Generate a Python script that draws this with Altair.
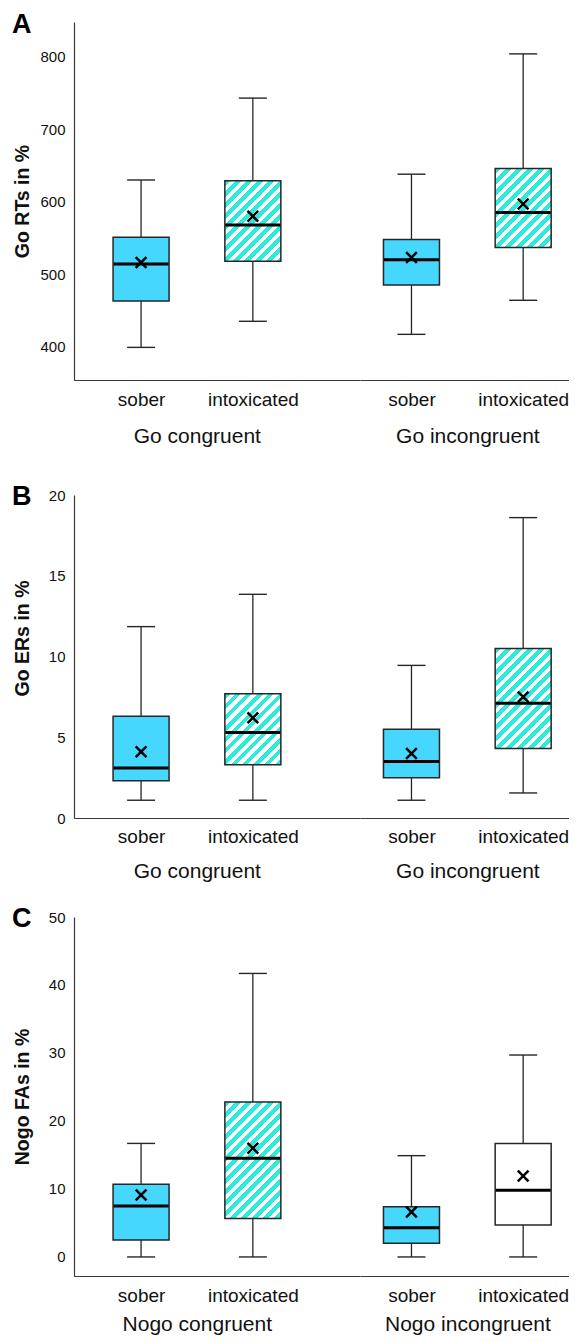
import altair as alt

# ---------------- data ----------------
CONDITIONS = ["sober", "intoxicated"]
GROUPS_GO = ["Go congruent", "Go incongruent"]
GROUPS_NOGO = ["Nogo congruent", "Nogo incongruent"]

# order of boxes: congruent-sober, congruent-intoxicated, incongruent-sober, incongruent-intoxicated
A_LOW = [399, 435, 417, 464]
A_Q1 = [463, 518, 485, 537]
A_MED = [514, 568, 520, 585]
A_Q3 = [551, 629, 548, 646]
A_HIGH = [630, 743, 638, 804]
A_MEAN = [516, 580, 523, 597]
A_TICKS = [400, 500, 600, 700, 800]

B_LOW = [1.1, 1.1, 1.1, 1.55]
B_Q1 = [2.3, 3.3, 2.5, 4.3]
B_MED = [3.1, 5.3, 3.5, 7.1]
B_Q3 = [6.3, 7.7, 5.5, 10.5]
B_HIGH = [11.85, 13.85, 9.45, 18.6]
B_MEAN = [4.1, 6.2, 4.0, 7.5]
B_TICKS = [0, 5, 10, 15, 20]

C_LOW = [0, 0, 0, 0]
C_Q1 = [2.5, 5.65, 2.0, 4.7]
C_MED = [7.5, 14.5, 4.3, 9.8]
C_Q3 = [10.7, 22.8, 7.4, 16.7]
C_HIGH = [16.7, 41.7, 14.9, 29.7]
C_MEAN = [9.1, 16.0, 6.6, 11.9]
C_TICKS = [0, 10, 20, 30, 40, 50]

# ---------------- styling ----------------
SOBER_BLUE = "#45D7FE"
HATCH_TEAL = "#2BEBDB"
LINE = "#262626"
AXIS_COL = "#3a3a3a"
TEXT_COL = "#111111"
STYLE_AB = ["solid", "hatch", "solid", "hatch"]
STYLE_C = ["solid", "hatch", "solid", "white"]
BOX_W = 56
CAP_W = 28
W_LEFT = 286
W_RIGHT = 209
XSHAPE = "M-1,-1L1,1M-1,1L1,-1"


def hatch(h_px, w_px=BOX_W, period=11.0):
    """45-degree stripes as a hard-stop linear gradient (bbox units)."""
    L = w_px + h_px
    s = L / (w_px ** 2 + h_px ** 2)
    dt = period / L
    stops = []
    k = 0
    while k * dt < 1:
        a = k * dt
        b = min((k + 0.5) * dt, 1.0)
        c = min((k + 1) * dt, 1.0)
        stops += [
            {"offset": round(a, 5), "color": HATCH_TEAL},
            {"offset": round(b, 5), "color": HATCH_TEAL},
            {"offset": round(b, 5), "color": "#ffffff"},
            {"offset": round(c, 5), "color": "#ffffff"},
        ]
        k += 1
    return {"gradient": "linear", "x1": 0, "y1": 0,
            "x2": w_px * s, "y2": h_px * s, "stops": stops}


def make_panel(letter, letter_size, letter_y, ytitle, groups, low, q1, med, q3, high, mean,
               ticks, domain, height, styles, xtitle_y, label_pad,
               ytitle_y=None, spacer=None):
    span = domain[1] - domain[0]
    recs = []
    for i in range(4):
        st = styles[i]
        if st == "solid":
            fill = SOBER_BLUE
        elif st == "white":
            fill = "#ffffff"
        else:
            fill = hatch((q3[i] - q1[i]) / span * height)
        recs.append({"group": groups[i // 2], "cond": CONDITIONS[i % 2],
                     "low": low[i], "q1": q1[i], "med": med[i], "q3": q3[i],
                     "high": high[i], "mean": mean[i], "fill": fill})

    ysc = alt.Scale(domain=domain, nice=False, zero=False)

    def sub(gi, left):
        data = alt.Data(values=[r for r in recs if r["group"] == groups[gi]])
        if left:
            xsc = alt.Scale(type="point", domain=CONDITIONS, padding=0.7793, align=0.385)
            title_x = 122.8
            width = W_LEFT
        else:
            xsc = alt.Scale(type="point", domain=CONDITIONS, padding=0.4355, align=0.529)
            title_x = 107.4
            width = W_RIGHT
        xaxis = alt.Axis(title=groups[gi], labelAngle=0, ticks=False, tickSize=0,
                         labelFontSize=19, labelColor=TEXT_COL, labelPadding=label_pad,
                         labelBaseline="alphabetic",
                         titleFontSize=21, titleFontWeight="normal", titleColor=TEXT_COL,
                         titleX=title_x, titleY=xtitle_y, titleBaseline="alphabetic",
                         domainColor=AXIS_COL, domainWidth=1.2, grid=False)
        if left:
            ykw = {}
            if ytitle_y is not None:
                ykw["titleY"] = ytitle_y
            yaxis = alt.Axis(title=ytitle, values=ticks, ticks=False, tickSize=0, grid=False,
                             labelFontSize=15, labelColor=TEXT_COL, labelPadding=9,
                             titleFontSize=19.5, titleFontWeight="bold", titleColor=TEXT_COL,
                             titleX=-52, titleBaseline="middle",
                             domainColor=AXIS_COL, domainWidth=1.2, **ykw)
        else:
            yaxis = None

        def Y(f):
            return alt.Y(f"{f}:Q", scale=ysc, axis=yaxis)

        x = alt.X("cond:N", scale=xsc, axis=xaxis, sort=CONDITIONS)
        base = alt.Chart(data).encode(x=x)
        layers = [
            base.mark_rule(color=LINE, strokeWidth=1.3).encode(y=Y("low"), y2="high:Q"),
            base.mark_tick(size=CAP_W, thickness=1.4, color=LINE, opacity=1).encode(y=Y("low")),
            base.mark_tick(size=CAP_W, thickness=1.4, color=LINE, opacity=1).encode(y=Y("high")),
            base.mark_bar(size=BOX_W, stroke=LINE, strokeWidth=1.5).encode(
                y=Y("q1"), y2="q3:Q", fill=alt.Fill("fill:N", scale=None)),
            base.mark_tick(size=BOX_W - 1, thickness=3, color="#000000", opacity=1).encode(y=Y("med")),
            base.mark_point(shape=XSHAPE, size=115, filled=False, strokeWidth=2.5,
                            color="#000000", opacity=1).encode(y=Y("mean")),
        ]
        if left:
            layers.append(
                alt.Chart(alt.Data(values=[{"t": letter}])).mark_text(
                    align="left", baseline="alphabetic", fontSize=letter_size,
                    fontWeight="bold", color="#000000").encode(
                    x=alt.value(-62), y=alt.value(letter_y), text="t:N"))
            if spacer is not None:
                layers.append(
                    alt.Chart(alt.Data(values=[{"t": 1}])).mark_rule(opacity=0, color="#ffffff").encode(
                        x=alt.value(0), y=alt.value(-spacer), y2=alt.value(-spacer + 2)))
        return alt.layer(*layers).properties(width=width, height=height)

    return alt.hconcat(sub(0, True), sub(1, False), spacing=0)


pA = make_panel("A", 27, 10.5, "Go RTs in %", GROUPS_GO, A_LOW, A_Q1, A_MED, A_Q3, A_HIGH, A_MEAN,
                A_TICKS, [354, 848], 358, STYLE_AB, xtitle_y=62, label_pad=25, spacer=14)
pB = make_panel("B", 27, 9.5, "Go ERs in %", GROUPS_GO, B_LOW, B_Q1, B_MED, B_Q3, B_HIGH, B_MEAN,
                B_TICKS, [0, 20], 323, STYLE_AB, xtitle_y=59, label_pad=24.5,
                ytitle_y=143, spacer=28)
pC = make_panel("C", 27, 9.5, "Nogo FAs in %", GROUPS_NOGO, C_LOW, C_Q1, C_MED, C_Q3, C_HIGH, C_MEAN,
                C_TICKS, [-2.8, 50], 359, STYLE_C, xtitle_y=54.5, label_pad=25,
                spacer=14.5)

chart = alt.vconcat(pA, pB, pC, spacing=21).properties(
    padding={"left": 4, "top": 0, "right": 0, "bottom": 0}
).configure(font="Liberation Sans").configure_view(stroke=None).configure_axis(grid=False)

chart.save("out.html", embed_options={"renderer": "svg", "actions": False})
